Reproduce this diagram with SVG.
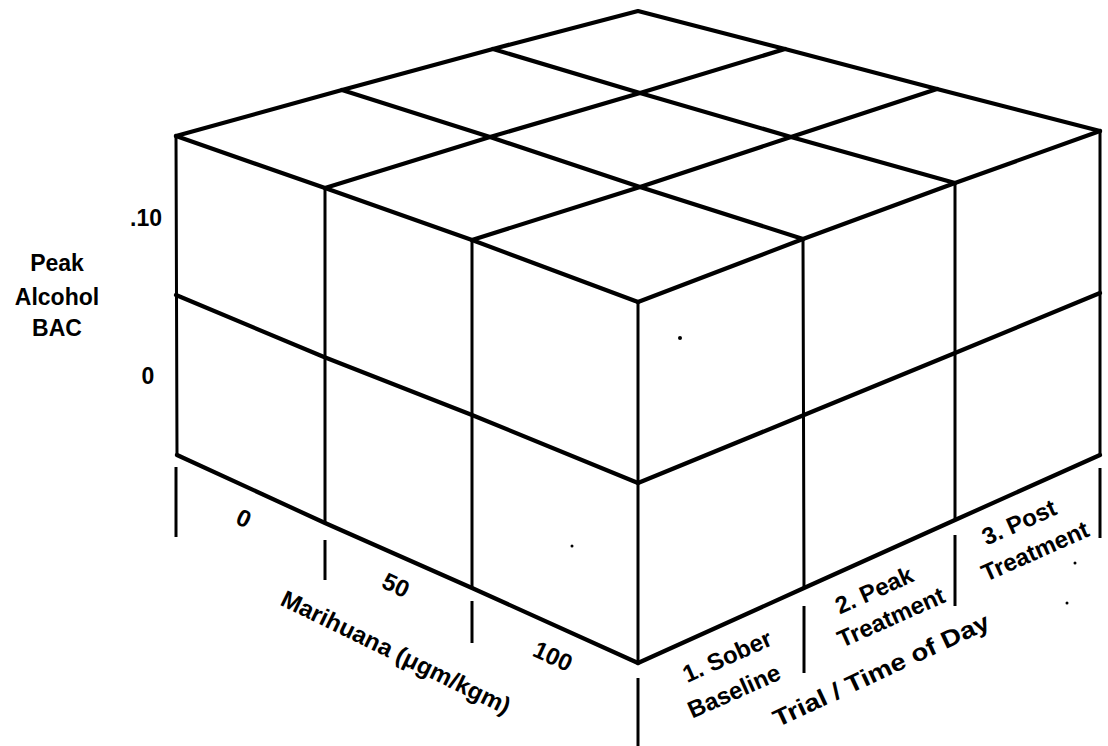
<svg xmlns="http://www.w3.org/2000/svg" width="1108" height="746" viewBox="0 0 1108 746">
<style>
.e{fill:none;stroke:#000;stroke-width:4.2;stroke-linejoin:round;stroke-linecap:round}
.v{fill:none;stroke:#000;stroke-width:3;stroke-linecap:round}
.t{fill:none;stroke:#000;stroke-width:3}
text{font-family:"Liberation Sans",Arial,sans-serif;font-weight:bold;fill:#000;text-anchor:middle;dominant-baseline:central}
.s{font-size:24px}
.m{font-size:23px}
</style>
<rect width="1108" height="746" fill="#fff"/>
<g id="cube">
<g id="top-face">
<polyline class="e" points="176,136 342,90 493,49 638,11 785,49 937,89 1100,131"/>
<polyline class="e" points="493,49 640,93 791,137 955,183"/>
<polyline class="e" points="342,90 490,137 640,187 803,239"/>
<polyline class="e" points="785,49 640,93 490,137 325,188"/>
<polyline class="e" points="937,89 791,137 640,187 472,240"/>
</g>
<g id="left-face">
<polyline class="e" points="176,136 325,188 472,240 638,302"/>
<polyline class="e" points="176,295 324,357 472,415 638,483"/>
<polyline class="e" points="177,455 325,523 472,588 638,663"/>
<line class="v" x1="176" y1="136" x2="177" y2="455"/>
<line class="v" x1="325" y1="188" x2="325" y2="523"/>
<line class="v" x1="472" y1="240" x2="472" y2="588"/>
<line class="v" x1="638" y1="302" x2="638" y2="663"/>
</g>
<g id="right-face">
<polyline class="e" points="1100,131 955,183 803,239 638,302"/>
<polyline class="e" points="1100,293 955,353 804,415 638,483"/>
<polyline class="e" points="1100,455 955,520 804,588 638,663"/>
<line class="v" x1="1100" y1="131" x2="1100" y2="455"/>
<line class="v" x1="955" y1="183" x2="955" y2="520"/>
<line class="v" x1="803" y1="239" x2="804" y2="588"/>
</g>
</g>
<g id="ticks">
<line class="t" x1="176" y1="467" x2="176" y2="537"/>
<line class="t" x1="325" y1="540" x2="325" y2="580"/>
<line class="t" x1="472" y1="601" x2="472" y2="643"/>
<line class="t" x1="638" y1="678" x2="638" y2="746"/>
<line class="t" x1="804" y1="606" x2="804" y2="673"/>
<line class="t" x1="955" y1="535" x2="955" y2="606"/>
<line class="t" x1="1100" y1="468" x2="1100" y2="538"/>
</g>
<g id="y-axis-labels">
<text class="m" x="146" y="218">.10</text>
<text class="m" x="148" y="376">0</text>
<text class="m" x="57" y="263">Peak</text>
<text class="m" x="57" y="297">Alcohol</text>
<text class="m" x="57" y="328">BAC</text>
</g>
<g id="marihuana-labels">
<text class="s" transform="translate(244,518) rotate(25)">0</text>
<text class="s" transform="translate(396,585) rotate(25)">50</text>
<text class="s" transform="translate(553,656) rotate(25)">100</text>
<text class="s" transform="translate(396,652) rotate(26)" textLength="252" lengthAdjust="spacingAndGlyphs">Marihuana (μgm/kgm)</text>
</g>
<g id="trial-labels">
<text class="s" transform="translate(727,656) rotate(-24)">1. Sober</text>
<text class="s" transform="translate(734,691) rotate(-24)">Baseline</text>
<text class="s" transform="translate(874,590) rotate(-24)">2. Peak</text>
<text class="s" transform="translate(891,617) rotate(-24)">Treatment</text>
<text class="s" transform="translate(1019,522) rotate(-24)">3. Post</text>
<text class="s" transform="translate(1035,551) rotate(-24)">Treatment</text>
<text class="s" transform="translate(881,670) rotate(-25)" textLength="236" lengthAdjust="spacingAndGlyphs">Trial / Time of Day</text>
</g>
<g id="specks" fill="#000">
<circle cx="680" cy="338" r="2"/>
<circle cx="572" cy="546" r="1.5"/>
<circle cx="1075" cy="563" r="1.5"/>
<circle cx="1067" cy="603" r="1.5"/>
</g>
</svg>
